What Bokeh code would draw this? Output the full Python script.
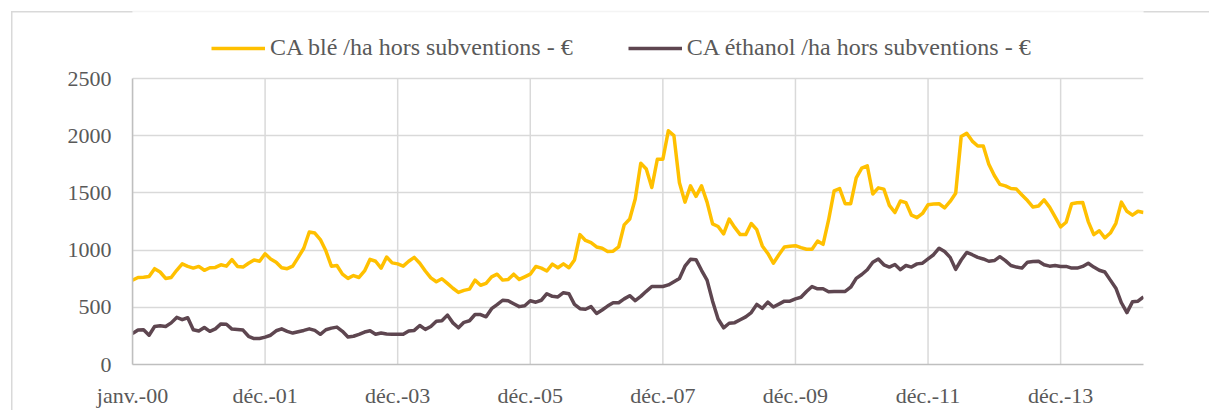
from bokeh.plotting import figure
from bokeh.models import FixedTicker, Legend, LegendItem, Range1d, BoxAnnotation
from bokeh.embed import file_html
from bokeh.resources import INLINE

tick_pos = [0, 24, 48, 72, 96, 120, 144, 168]
tick_labels = ["janv.-00", "déc.-01", "déc.-03", "déc.-05", "déc.-07", "déc.-09", "déc.-11", "déc.-13"]
y_ticks = [0, 500, 1000, 1500, 2000, 2500]

series_names = ["CA blé /ha hors subventions - €", "CA éthanol /ha hors subventions - €"]

ble = [738, 761, 764, 770, 838, 809, 753, 761, 824, 880,
       858, 843, 858, 824, 846, 849, 872, 860, 917, 858,
       852, 886, 914, 903, 968, 923, 895, 846, 838, 860,
       937, 1017, 1159, 1150, 1093, 994, 860, 866, 790, 753,
       778, 761, 818, 920, 903, 843, 940, 889, 880, 860,
       903, 937, 886, 818, 758, 724, 750, 710, 667, 630,
       648, 659, 738, 693, 710, 767, 790, 738, 744, 790,
       744, 767, 790, 858, 843, 818, 878, 846, 880, 846,
       914, 1136, 1085, 1065, 1028, 1017, 988, 991, 1028, 1221,
       1272, 1448, 1761, 1710, 1548, 1795, 1795, 2045, 2002, 1590,
       1420, 1562, 1471, 1562, 1420, 1230, 1207, 1142, 1272, 1199,
       1136, 1136, 1233, 1179, 1037, 971, 886, 960, 1028, 1034,
       1039, 1022, 1008, 1008, 1079, 1051, 1264, 1519, 1539, 1406,
       1406, 1633, 1718, 1738, 1491, 1545, 1534, 1392, 1329, 1430,
       1416, 1306, 1284, 1321, 1397, 1403, 1406, 1369, 1426, 1497,
       1994, 2022, 1954, 1911, 1911, 1752, 1653, 1576, 1562, 1539,
       1534, 1482, 1434, 1377, 1386, 1440, 1377, 1292, 1204, 1244,
       1406, 1414, 1417, 1250, 1136, 1170, 1108, 1150, 1235, 1420,
       1340, 1306, 1340, 1329]

ethanol = [270, 301, 304, 256, 332, 338, 332, 364, 412, 392,
           409, 304, 293, 324, 290, 312, 355, 352, 310, 307,
           301, 247, 227, 227, 239, 256, 295, 312, 290, 275,
           287, 298, 312, 298, 264, 304, 318, 327, 290, 241,
           247, 264, 284, 295, 264, 275, 267, 264, 264, 264,
           293, 298, 341, 307, 332, 378, 383, 432, 364, 321,
           369, 383, 437, 437, 417, 488, 523, 562, 557, 531,
           506, 514, 557, 545, 562, 619, 596, 591, 628, 619,
           526, 488, 483, 506, 446, 477, 511, 540, 540, 574,
           602, 559, 596, 640, 682, 682, 682, 696, 724, 753,
           860, 920, 917, 824, 738, 554, 398, 321, 361, 366,
           392, 417, 454, 526, 491, 545, 503, 528, 554, 554,
           574, 588, 639, 682, 662, 662, 636, 639, 639, 639,
           676, 753, 787, 829, 895, 923, 872, 852, 875, 829,
           866, 852, 880, 886, 923, 960, 1017, 988, 937, 832,
           914, 980, 960, 937, 923, 903, 909, 943, 909, 866,
           852, 843, 895, 900, 903, 872, 860, 866, 858, 858,
           843, 843, 858, 886, 852, 824, 809, 738, 667, 540,
           454, 548, 554, 591]

x = list(range(len(ble)))

FONT = "Liberation Serif"
TXT = "#595959"
GRID = "#D9D9D9"

# layout geometry (canvas px)
W, H = 1209, 410
FRAME_LEFT, FRAME_RIGHT = 132, 1143
FRAME_TOP, AXIS_TOP, AXIS_BOTTOM = 5, 80, 373
y_max = y_ticks[-1]
y_top = y_max * (AXIS_BOTTOM - FRAME_TOP) / (AXIS_BOTTOM - AXIS_TOP)

p = figure(width=W, height=H, output_backend="svg", toolbar_location=None,
           x_range=Range1d(0, len(ble) - 1), y_range=Range1d(0, y_top),
           min_border_left=FRAME_LEFT, min_border_right=W - FRAME_RIGHT,
           min_border_top=FRAME_TOP, min_border_bottom=H - AXIS_BOTTOM)
p.outline_line_color = None
p.background_fill_color = "white"
p.border_fill_alpha = 0
# outer chart border (left + top), drawn behind the transparent border area
p.styles = {
    "background-color": "white",
    "background-image": f"linear-gradient({GRID}, {GRID}), linear-gradient({GRID}, {GRID})",
    "background-size": "1.5px 100%, 100% 1.5px",
    "background-position": "11px 11px, 11px 11px",
    "background-repeat": "no-repeat",
}

# vertical grid lines, limited to the value axis extent
p.segment(x0=tick_pos, y0=[0] * len(tick_pos), x1=tick_pos, y1=[y_max] * len(tick_pos),
          line_color=GRID, line_width=1.5)

r1 = p.line(x, ble, line_color="#FFC000", line_width=3.5, line_join="round")
r2 = p.line(x, ethanol, line_color="#5E4650", line_width=3.5, line_join="round")

p.xaxis.ticker = FixedTicker(ticks=tick_pos)
p.xaxis.major_label_overrides = {t: l for t, l in zip(tick_pos, tick_labels)}
p.yaxis.ticker = FixedTicker(ticks=y_ticks)
p.yaxis.bounds = (0, y_max)
for ax in (p.xaxis, p.yaxis):
    ax.major_tick_line_color = None
    ax.minor_tick_line_color = None
    ax.axis_line_color = "#BFBFBF"
    ax.axis_line_width = 1.5
    ax.major_label_text_font = FONT
    ax.major_label_text_font_size = "22px"
    ax.major_label_text_color = TXT
p.yaxis.major_label_standoff = 15
p.xaxis.major_label_standoff = 12

p.xgrid.visible = False
p.ygrid.grid_line_color = GRID
p.ygrid.grid_line_width = 1.5

legend = Legend(items=[LegendItem(label=series_names[0], renderers=[r1]),
                       LegendItem(label=series_names[1], renderers=[r2])],
                orientation="horizontal", location=(79, 303),
                padding=0, margin=0, spacing=55, glyph_width=54, glyph_height=22,
                label_standoff=5, border_line_color=None, background_fill_alpha=0,
                label_text_font=FONT, label_text_font_size="24px", label_text_color=TXT)
p.add_layout(legend)

border = BoxAnnotation(left=11, right=1240, top=11, bottom=440,
                       left_units="canvas", right_units="canvas", top_units="canvas", bottom_units="canvas",
                       fill_alpha=0, line_color=GRID, line_width=1.5, level="overlay")
p.add_layout(border)

open("out.html", "w").write(file_html(p, INLINE))
